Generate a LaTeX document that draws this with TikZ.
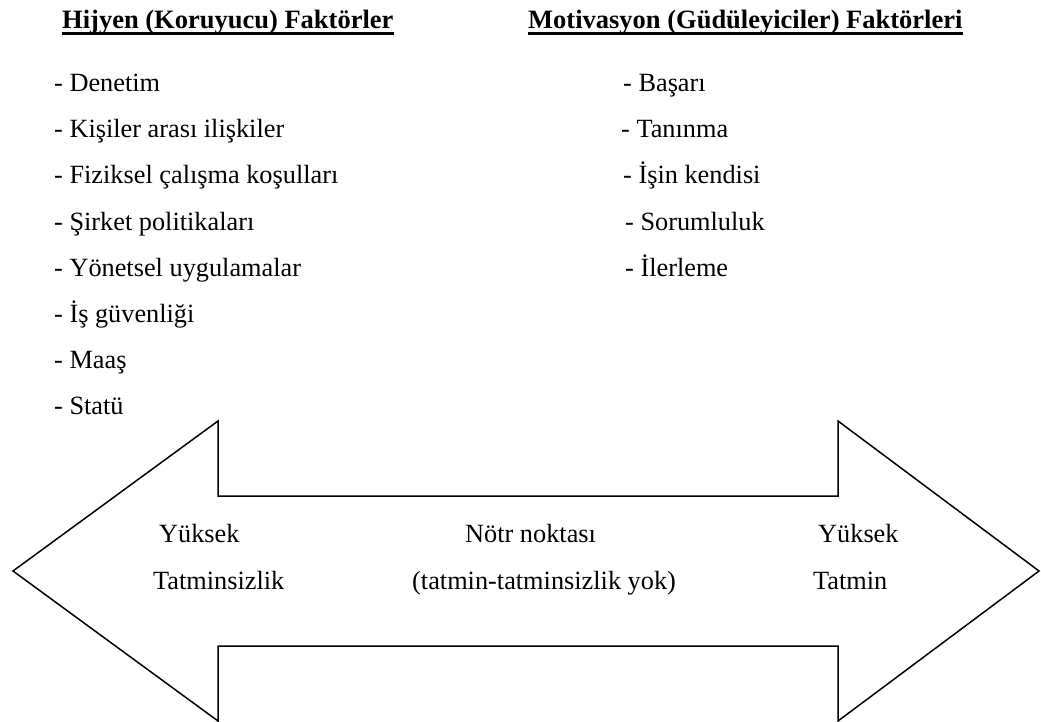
\documentclass[tikz,border=0pt]{standalone}
\usepackage{fontspec}
\setmainfont{Liberation Serif}
\begin{document}
\begin{tikzpicture}[x=1pt,y=-1pt,
  txt/.style={anchor=base west,inner sep=0pt,font=\fontsize{26.3}{31}\selectfont},
  head/.style={anchor=base west,inner sep=0pt,font=\fontsize{26.5}{31}\selectfont\bfseries},
  uline/.style={line width=2.2pt},
  arrowshape/.style={draw=black,line width=1.5pt,line join=miter}]
\useasboundingbox (0,0) rectangle (1041,722);
% headings
\node[head] (h1) at (62,29) {Hijyen (Koruyucu) Faktörler};
\node[head] (h2) at (528,29) {Motivasyon (Güdüleyiciler) Faktörleri};
\draw[uline] ([yshift=-4.5pt]h1.base west) -- ([yshift=-4.5pt]h1.base east);
\draw[uline] ([yshift=-4.5pt]h2.base west) -- ([yshift=-4.5pt]h2.base east);
% left list
\node[txt] (l1) at (54,92)  {- Denetim};
\node[txt] (l2) at (54,138) {- Kişiler arası ilişkiler};
\node[txt] (l3) at (54,184) {- Fiziksel çalışma koşulları};
\node[txt] (l4) at (54,230) {- Şirket politikaları};
\node[txt] (l5) at (54,276) {- Yönetsel uygulamalar};
\node[txt] (l6) at (54,322) {- İş güvenliği};
\node[txt] (l7) at (54,368) {- Maaş};
\node[txt] (l8) at (54,414) {- Statü};
% right list
\node[txt] (r1) at (623,92)  {- Başarı};
\node[txt] (r2) at (621,138) {- Tanınma};
\node[txt] (r3) at (623,184) {- İşin kendisi};
\node[txt] (r4) at (625,230) {- Sorumluluk};
\node[txt] (r5) at (625,276) {- İlerleme};
% double arrow
\draw[arrowshape] (13,571) -- (218,421) -- (218,496) -- (838,496) -- (838,421)
  -- (1039,571) -- (838,721) -- (838,646) -- (218,646) -- (218,721) -- cycle;
% arrow texts
\node[txt] (a1) at (159,542) {Yüksek};
\node[txt] (a2) at (153,589) {Tatminsizlik};
\node[txt] (b1) at (465,542) {Nötr noktası};
\node[txt] (b2) at (412,589) {(tatmin-tatminsizlik yok)};
\node[txt] (c1) at (818,542) {Yüksek};
\node[txt] (c2) at (813,589) {Tatmin};
\end{tikzpicture}
\end{document}
